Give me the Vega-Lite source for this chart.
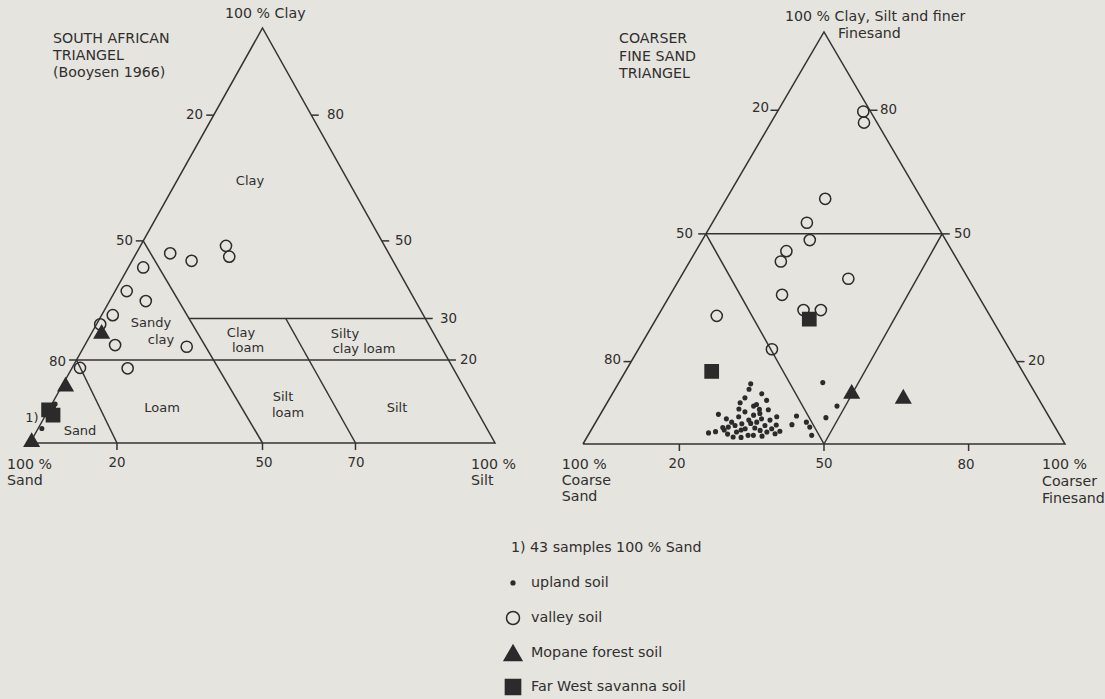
{
  "$schema": "https://vega.github.io/schema/vega-lite/v6.json",
  "width": 1105,
  "height": 699,
  "autosize": {"type": "fit", "contains": "padding"},
  "padding": 0,
  "background": "#e6e4de",
  "config": {"view": {"stroke": null}},
  "datasets": {
    "lines": [
      {"panel": "L", "seg": "L-out", "ord": 0, "clay": 0, "silt": 0},
      {"panel": "L", "seg": "L-out", "ord": 1, "clay": 0, "silt": 100},
      {"panel": "L", "seg": "L-out", "ord": 2, "clay": 100, "silt": 0},
      {"panel": "L", "seg": "L-out", "ord": 3, "clay": 0, "silt": 0},
      {"panel": "L", "seg": "L-s80", "ord": 0, "clay": 20, "silt": 0},
      {"panel": "L", "seg": "L-s80", "ord": 1, "clay": 0, "silt": 18.7},
      {"panel": "L", "seg": "L-c20", "ord": 0, "clay": 20, "silt": 0},
      {"panel": "L", "seg": "L-c20", "ord": 1, "clay": 20, "silt": 80},
      {"panel": "L", "seg": "L-s50", "ord": 0, "clay": 48.7, "silt": 0},
      {"panel": "L", "seg": "L-s50", "ord": 1, "clay": 0, "silt": 50},
      {"panel": "L", "seg": "L-c30", "ord": 0, "clay": 30, "silt": 19.2},
      {"panel": "L", "seg": "L-c30", "ord": 1, "clay": 30, "silt": 70},
      {"panel": "L", "seg": "L-s30", "ord": 0, "clay": 30, "silt": 40},
      {"panel": "L", "seg": "L-s30", "ord": 1, "clay": 0, "silt": 70},
      {"panel": "L", "seg": "L-tl1", "ord": 0, "clay": 79, "silt": -1.6},
      {"panel": "L", "seg": "L-tl1", "ord": 1, "clay": 79, "silt": 0},
      {"panel": "L", "seg": "L-tl2", "ord": 0, "clay": 48.7, "silt": -1.6},
      {"panel": "L", "seg": "L-tl2", "ord": 1, "clay": 48.7, "silt": 0},
      {"panel": "L", "seg": "L-tl3", "ord": 0, "clay": 20, "silt": -1.6},
      {"panel": "L", "seg": "L-tl3", "ord": 1, "clay": 20, "silt": 0},
      {"panel": "L", "seg": "L-tr1", "ord": 0, "clay": 79, "silt": 21},
      {"panel": "L", "seg": "L-tr1", "ord": 1, "clay": 79, "silt": 22.6},
      {"panel": "L", "seg": "L-tr2", "ord": 0, "clay": 48.7, "silt": 51.3},
      {"panel": "L", "seg": "L-tr2", "ord": 1, "clay": 48.7, "silt": 52.9},
      {"panel": "L", "seg": "L-tr3", "ord": 0, "clay": 30, "silt": 70},
      {"panel": "L", "seg": "L-tr3", "ord": 1, "clay": 30, "silt": 71.6},
      {"panel": "L", "seg": "L-tr4", "ord": 0, "clay": 20, "silt": 80},
      {"panel": "L", "seg": "L-tr4", "ord": 1, "clay": 20, "silt": 81.6},
      {"panel": "L", "seg": "L-tb1", "ord": 0, "clay": 0, "silt": 18.7},
      {"panel": "L", "seg": "L-tb1", "ord": 1, "clay": -1.7, "silt": 19.55},
      {"panel": "L", "seg": "L-tb2", "ord": 0, "clay": 0, "silt": 50},
      {"panel": "L", "seg": "L-tb2", "ord": 1, "clay": -1.7, "silt": 50.85},
      {"panel": "L", "seg": "L-tb3", "ord": 0, "clay": 0, "silt": 70},
      {"panel": "L", "seg": "L-tb3", "ord": 1, "clay": -1.7, "silt": 70.85},
      {"panel": "R", "seg": "R-out", "ord": 0, "fine": 0, "coarserFine": 0},
      {"panel": "R", "seg": "R-out", "ord": 1, "fine": 0, "coarserFine": 100},
      {"panel": "R", "seg": "R-out", "ord": 2, "fine": 100, "coarserFine": 0},
      {"panel": "R", "seg": "R-out", "ord": 3, "fine": 0, "coarserFine": 0},
      {"panel": "R", "seg": "R-mid", "ord": 0, "fine": 51, "coarserFine": 0},
      {"panel": "R", "seg": "R-mid", "ord": 1, "fine": 51, "coarserFine": 49},
      {"panel": "R", "seg": "R-l", "ord": 0, "fine": 51, "coarserFine": 0},
      {"panel": "R", "seg": "R-l", "ord": 1, "fine": 0, "coarserFine": 50},
      {"panel": "R", "seg": "R-r", "ord": 0, "fine": 51, "coarserFine": 49},
      {"panel": "R", "seg": "R-r", "ord": 1, "fine": 0, "coarserFine": 50},
      {"panel": "R", "seg": "R-tl1", "ord": 0, "fine": 81, "coarserFine": -1.6},
      {"panel": "R", "seg": "R-tl1", "ord": 1, "fine": 81, "coarserFine": 0},
      {"panel": "R", "seg": "R-tl2", "ord": 0, "fine": 51, "coarserFine": -1.6},
      {"panel": "R", "seg": "R-tl2", "ord": 1, "fine": 51, "coarserFine": 0},
      {"panel": "R", "seg": "R-tl3", "ord": 0, "fine": 20, "coarserFine": -1.6},
      {"panel": "R", "seg": "R-tl3", "ord": 1, "fine": 20, "coarserFine": 0},
      {"panel": "R", "seg": "R-tr1", "ord": 0, "fine": 81, "coarserFine": 19},
      {"panel": "R", "seg": "R-tr1", "ord": 1, "fine": 81, "coarserFine": 20.6},
      {"panel": "R", "seg": "R-tr2", "ord": 0, "fine": 51, "coarserFine": 49},
      {"panel": "R", "seg": "R-tr2", "ord": 1, "fine": 51, "coarserFine": 50.6},
      {"panel": "R", "seg": "R-tr3", "ord": 0, "fine": 20, "coarserFine": 80},
      {"panel": "R", "seg": "R-tr3", "ord": 1, "fine": 20, "coarserFine": 81.6},
      {"panel": "R", "seg": "R-tb1", "ord": 0, "fine": 0, "coarserFine": 20},
      {"panel": "R", "seg": "R-tb1", "ord": 1, "fine": -1.7, "coarserFine": 20.85},
      {"panel": "R", "seg": "R-tb2", "ord": 0, "fine": 0, "coarserFine": 50},
      {"panel": "R", "seg": "R-tb2", "ord": 1, "fine": -1.7, "coarserFine": 50.85},
      {"panel": "R", "seg": "R-tb3", "ord": 0, "fine": 0, "coarserFine": 80},
      {"panel": "R", "seg": "R-tb3", "ord": 1, "fine": -1.7, "coarserFine": 80.85}
    ],
    "samples": [
      {"panel": "L", "soil": "valley soil", "clay": 45.7, "silt": 7.3},
      {"panel": "L", "soil": "valley soil", "clay": 43.9, "silt": 12.8},
      {"panel": "L", "soil": "valley soil", "clay": 47.5, "silt": 18.4},
      {"panel": "L", "soil": "valley soil", "clay": 44.9, "silt": 20.4},
      {"panel": "L", "soil": "valley soil", "clay": 42.3, "silt": 3.2},
      {"panel": "L", "soil": "valley soil", "clay": 36.6, "silt": 2.5},
      {"panel": "L", "soil": "valley soil", "clay": 34.2, "silt": 7.8},
      {"panel": "L", "soil": "valley soil", "clay": 30.8, "silt": 2.4},
      {"panel": "L", "soil": "valley soil", "clay": 28.6, "silt": 0.8},
      {"panel": "L", "soil": "valley soil", "clay": 23.6, "silt": 6.5},
      {"panel": "L", "soil": "valley soil", "clay": 23.2, "silt": 22.1},
      {"panel": "L", "soil": "valley soil", "clay": 18.1, "silt": 1.7},
      {"panel": "L", "soil": "valley soil", "clay": 18.0, "silt": 12.0},
      {"panel": "L", "soil": "upland soil", "clay": 0, "silt": 0},
      {"panel": "L", "soil": "upland soil", "clay": 3.5, "silt": 0.8},
      {"panel": "L", "soil": "upland soil", "clay": 9.4, "silt": 0.7},
      {"panel": "L", "soil": "Mopane forest soil", "clay": 26.8, "silt": 2.0},
      {"panel": "L", "soil": "Mopane forest soil", "clay": 14.1, "silt": 0.6},
      {"panel": "L", "soil": "Mopane forest soil", "clay": 0.7, "silt": 0},
      {"panel": "L", "soil": "Far West savanna soil", "clay": 8.0, "silt": 0},
      {"panel": "L", "soil": "Far West savanna soil", "clay": 6.7, "silt": 1.6},
      {"panel": "R", "soil": "valley soil", "fine": 80.7, "coarserFine": 17.8},
      {"panel": "R", "soil": "valley soil", "fine": 78.0, "coarserFine": 19.3},
      {"panel": "R", "soil": "valley soil", "fine": 59.5, "coarserFine": 20.5},
      {"panel": "R", "soil": "valley soil", "fine": 53.7, "coarserFine": 19.6},
      {"panel": "R", "soil": "valley soil", "fine": 49.5, "coarserFine": 22.3},
      {"panel": "R", "soil": "valley soil", "fine": 46.8, "coarserFine": 18.8},
      {"panel": "R", "soil": "valley soil", "fine": 44.3, "coarserFine": 18.9},
      {"panel": "R", "soil": "valley soil", "fine": 36.2, "coarserFine": 23.2},
      {"panel": "R", "soil": "valley soil", "fine": 31.1, "coarserFine": 12.2},
      {"panel": "R", "soil": "valley soil", "fine": 32.5, "coarserFine": 29.5},
      {"panel": "R", "soil": "valley soil", "fine": 32.5, "coarserFine": 33.1},
      {"panel": "R", "soil": "valley soil", "fine": 23.0, "coarserFine": 27.7},
      {"panel": "R", "soil": "valley soil", "fine": 40.1, "coarserFine": 35.0},
      {"panel": "R", "soil": "Far West savanna soil", "fine": 30.3, "coarserFine": 31.8},
      {"panel": "R", "soil": "Far West savanna soil", "fine": 17.6, "coarserFine": 17.9},
      {"panel": "R", "soil": "Mopane forest soil", "fine": 12.7, "coarserFine": 49.4},
      {"panel": "R", "soil": "Mopane forest soil", "fine": 11.5, "coarserFine": 60.7},
      {"panel": "R", "soil": "upland soil", "fine": 14.6, "coarserFine": 27.5},
      {"panel": "R", "soil": "upland soil", "fine": 13.3, "coarserFine": 27.8},
      {"panel": "R", "soil": "upland soil", "fine": 11.2, "coarserFine": 28.0},
      {"panel": "R", "soil": "upland soil", "fine": 10.0, "coarserFine": 27.6},
      {"panel": "R", "soil": "upland soil", "fine": 12.2, "coarserFine": 31.0},
      {"panel": "R", "soil": "upland soil", "fine": 10.6, "coarserFine": 32.8},
      {"panel": "R", "soil": "upland soil", "fine": 9.2, "coarserFine": 30.8},
      {"panel": "R", "soil": "upland soil", "fine": 8.4, "coarserFine": 32.4},
      {"panel": "R", "soil": "upland soil", "fine": 7.2, "coarserFine": 24.5},
      {"panel": "R", "soil": "upland soil", "fine": 6.1, "coarserFine": 26.7},
      {"panel": "R", "soil": "upland soil", "fine": 6.6, "coarserFine": 29.0},
      {"panel": "R", "soil": "upland soil", "fine": 5.3, "coarserFine": 28.2},
      {"panel": "R", "soil": "upland soil", "fine": 4.5, "coarserFine": 29.3},
      {"panel": "R", "soil": "upland soil", "fine": 4.1, "coarserFine": 28.1},
      {"panel": "R", "soil": "upland soil", "fine": 4.9, "coarserFine": 30.5},
      {"panel": "R", "soil": "upland soil", "fine": 3.7, "coarserFine": 31.8},
      {"panel": "R", "soil": "upland soil", "fine": 2.9, "coarserFine": 30.4},
      {"panel": "R", "soil": "upland soil", "fine": 1.7, "coarserFine": 30.3},
      {"panel": "R", "soil": "upland soil", "fine": 2.1, "coarserFine": 33.2},
      {"panel": "R", "soil": "upland soil", "fine": 7.0, "coarserFine": 31.9},
      {"panel": "R", "soil": "upland soil", "fine": 5.3, "coarserFine": 33.4},
      {"panel": "R", "soil": "upland soil", "fine": 6.1, "coarserFine": 34.0},
      {"panel": "R", "soil": "upland soil", "fine": 4.5, "coarserFine": 35.5},
      {"panel": "R", "soil": "upland soil", "fine": 3.3, "coarserFine": 35.1},
      {"panel": "R", "soil": "upland soil", "fine": 2.9, "coarserFine": 36.7},
      {"panel": "R", "soil": "upland soil", "fine": 3.7, "coarserFine": 37.3},
      {"panel": "R", "soil": "upland soil", "fine": 6.6, "coarserFine": 36.9},
      {"panel": "R", "soil": "upland soil", "fine": 2.5, "coarserFine": 38.6},
      {"panel": "R", "soil": "upland soil", "fine": 3.1, "coarserFine": 39.3},
      {"panel": "R", "soil": "upland soil", "fine": 2.7, "coarserFine": 24.7},
      {"panel": "R", "soil": "upland soil", "fine": 2.1, "coarserFine": 34.3},
      {"panel": "R", "soil": "upland soil", "fine": 4.7, "coarserFine": 41.0},
      {"panel": "R", "soil": "upland soil", "fine": 6.8, "coarserFine": 40.9},
      {"panel": "R", "soil": "upland soil", "fine": 5.3, "coarserFine": 43.7},
      {"panel": "R", "soil": "upland soil", "fine": 4.1, "coarserFine": 45.0},
      {"panel": "R", "soil": "upland soil", "fine": 2.1, "coarserFine": 46.4},
      {"panel": "R", "soil": "upland soil", "fine": 14.9, "coarserFine": 42.3},
      {"panel": "R", "soil": "upland soil", "fine": 6.4, "coarserFine": 47.2},
      {"panel": "R", "soil": "upland soil", "fine": 9.2, "coarserFine": 48.1},
      {"panel": "R", "soil": "upland soil", "fine": 9.6, "coarserFine": 31.2},
      {"panel": "R", "soil": "upland soil", "fine": 7.8, "coarserFine": 29.7},
      {"panel": "R", "soil": "upland soil", "fine": 5.8, "coarserFine": 31.5},
      {"panel": "R", "soil": "upland soil", "fine": 3.4, "coarserFine": 31.1},
      {"panel": "R", "soil": "upland soil", "fine": 3.9, "coarserFine": 33.7},
      {"panel": "R", "soil": "upland soil", "fine": 1.9, "coarserFine": 36.2},
      {"panel": "R", "soil": "upland soil", "fine": 5.8, "coarserFine": 35.9},
      {"panel": "R", "soil": "upland soil", "fine": 8.5, "coarserFine": 28.1},
      {"panel": "R", "soil": "upland soil", "fine": 3.4, "coarserFine": 27.6},
      {"panel": "R", "soil": "upland soil", "fine": 8.3, "coarserFine": 34.3},
      {"panel": "R", "soil": "upland soil", "fine": 4.0, "coarserFine": 27.0},
      {"panel": "R", "soil": "upland soil", "fine": 5.0, "coarserFine": 32.3},
      {"panel": "R", "soil": "upland soil", "fine": 2.4, "coarserFine": 28.8},
      {"panel": "R", "soil": "upland soil", "fine": 4.6, "coarserFine": 37.8},
      {"panel": "R", "soil": "upland soil", "fine": 7.4, "coarserFine": 33.0},
      {"panel": "R", "soil": "upland soil", "fine": 1.6, "coarserFine": 32.0},
      {"panel": "R", "soil": "upland soil", "fine": 3.0, "coarserFine": 26.0}
    ],
    "labels": [
      {"kind": "title", "t": "SOUTH AFRICAN", "u": 4.95, "v": 97.35},
      {"kind": "title", "t": "TRIANGEL", "u": 4.95, "v": 93.25},
      {"kind": "title", "t": "(Booysen 1966)", "u": 4.95, "v": 89.16},
      {"kind": "title", "t": "COARSER", "u": 126.67, "v": 97.35},
      {"kind": "title", "t": "FINE SAND", "u": 126.67, "v": 93.01},
      {"kind": "title", "t": "TRIANGEL", "u": 126.67, "v": 88.92},
      {"kind": "vertex", "t": "100 % Clay", "u": 41.94, "v": 103.37},
      {"kind": "vertex", "t": "100 %", "u": -4.95, "v": -5.3},
      {"kind": "vertex", "t": "Sand", "u": -4.95, "v": -9.16},
      {"kind": "vertex", "t": "100 %", "u": 94.84, "v": -5.3},
      {"kind": "vertex", "t": "Silt", "u": 94.84, "v": -9.16},
      {"kind": "vertex", "t": "100 % Clay, Silt and finer", "u": 162.37, "v": 102.65},
      {"kind": "vertex", "t": "Finesand", "u": 173.76, "v": 98.55},
      {"kind": "vertex", "t": "100 %", "u": 114.34, "v": -5.3},
      {"kind": "vertex", "t": "Coarse", "u": 114.34, "v": -9.16},
      {"kind": "vertex", "t": "Sand", "u": 114.34, "v": -13.01},
      {"kind": "vertex", "t": "100 %", "u": 217.63, "v": -5.3},
      {"kind": "vertex", "t": "Coarser", "u": 217.63, "v": -9.4},
      {"kind": "vertex", "t": "Finesand", "u": 217.63, "v": -13.49},
      {"kind": "edgeLeft", "t": "20", "u": 37.2, "v": 79.04},
      {"kind": "edgeLeft", "t": "50", "u": 22.15, "v": 48.67},
      {"kind": "edgeLeft", "t": "80", "u": 7.74, "v": 19.52},
      {"kind": "edgeLeft", "t": "20", "u": 158.92, "v": 80.72},
      {"kind": "edgeLeft", "t": "50", "u": 142.58, "v": 50.36},
      {"kind": "edgeLeft", "t": "80", "u": 127.1, "v": 20.0},
      {"kind": "edgeRight", "t": "80", "u": 63.87, "v": 79.04},
      {"kind": "edgeRight", "t": "50", "u": 78.49, "v": 48.67},
      {"kind": "edgeRight", "t": "30", "u": 88.17, "v": 29.88},
      {"kind": "edgeRight", "t": "20", "u": 92.47, "v": 19.9},
      {"kind": "edgeRight", "t": "80", "u": 182.8, "v": 80.24},
      {"kind": "edgeRight", "t": "50", "u": 198.71, "v": 50.36},
      {"kind": "edgeRight", "t": "20", "u": 214.62, "v": 19.76},
      {"kind": "edgeBottom", "t": "20", "u": 18.71, "v": -4.9},
      {"kind": "edgeBottom", "t": "50", "u": 50.32, "v": -4.9},
      {"kind": "edgeBottom", "t": "70", "u": 70.11, "v": -4.9},
      {"kind": "edgeBottom", "t": "20", "u": 139.14, "v": -5.06},
      {"kind": "edgeBottom", "t": "50", "u": 170.75, "v": -5.06},
      {"kind": "edgeBottom", "t": "80", "u": 201.29, "v": -5.3},
      {"kind": "region", "t": "Clay", "u": 47.31, "v": 63.13},
      {"kind": "region", "t": "Sandy", "u": 26.02, "v": 28.92},
      {"kind": "region", "t": "clay", "u": 28.17, "v": 24.82},
      {"kind": "region", "t": "Clay", "u": 45.38, "v": 26.51},
      {"kind": "region", "t": "loam", "u": 46.88, "v": 22.89},
      {"kind": "region", "t": "Silty", "u": 67.74, "v": 26.27},
      {"kind": "region", "t": "clay loam", "u": 71.83, "v": 22.65},
      {"kind": "region", "t": "Silt", "u": 54.41, "v": 11.08},
      {"kind": "region", "t": "loam", "u": 55.48, "v": 7.23},
      {"kind": "region", "t": "Silt", "u": 78.92, "v": 8.43},
      {"kind": "region", "t": "Loam", "u": 28.39, "v": 8.43},
      {"kind": "region", "t": "Sand", "u": 10.75, "v": 2.89},
      {"kind": "region", "t": "1)", "u": 0.43, "v": 6.02},
      {"kind": "note", "t": "1) 43 samples 100 % Sand", "u": 103.44, "v": -25.3}
    ],
    "legend": [
      {"soil": "upland soil", "u": 103.87, "v": -33.73},
      {"soil": "valley soil", "u": 103.87, "v": -42.17},
      {"soil": "Mopane forest soil", "u": 103.87, "v": -50.6},
      {"soil": "Far West savanna soil", "u": 103.87, "v": -58.8}
    ]
  },
  "resolve": {"scale": {"size": "independent"}},
  "layer": [
    {
      "data": {"name": "lines"},
      "transform": [
        {"calculate": "datum.panel == 'L' ? datum.silt + datum.clay / 2 : 118.92 + 1.0366 * (datum.coarserFine + datum.fine / 2)", "as": "u"},
        {"calculate": "datum.panel == 'L' ? datum.clay : -0.241 + 0.9928 * datum.fine", "as": "v"}
      ],
      "mark": {"type": "line", "stroke": "#333333", "strokeWidth": 1.5, "strokeJoin": "miter"},
      "encoding": {
        "x": {"field": "u", "type": "quantitative", "scale": {"domain": [-6.452, 231.183], "nice": false, "zero": false}, "axis": null},
        "y": {"field": "v", "type": "quantitative", "scale": {"domain": [-61.687, 106.747], "nice": false, "zero": false}, "axis": null},
        "detail": {"field": "seg", "type": "nominal"},
        "order": {"field": "ord", "type": "quantitative"}
      }
    },
    {
      "data": {"name": "samples"},
      "transform": [
        {"calculate": "datum.panel == 'L' ? datum.silt + datum.clay / 2 : 118.92 + 1.0366 * (datum.coarserFine + datum.fine / 2)", "as": "u"},
        {"calculate": "datum.panel == 'L' ? datum.clay : -0.241 + 0.9928 * datum.fine", "as": "v"}
      ],
      "mark": {"type": "point", "filled": true, "stroke": "#2b2b2b", "strokeWidth": 1.5, "opacity": 1},
      "encoding": {
        "x": {"field": "u", "type": "quantitative", "scale": {"domain": [-6.452, 231.183], "nice": false, "zero": false}, "axis": null},
        "y": {"field": "v", "type": "quantitative", "scale": {"domain": [-61.687, 106.747], "nice": false, "zero": false}, "axis": null},
        "shape": {"field": "soil", "type": "nominal", "scale": {"domain": ["upland soil", "valley soil", "Mopane forest soil", "Far West savanna soil"], "range": ["circle", "circle", "triangle-up", "square"]}, "legend": null},
        "fill": {"field": "soil", "type": "nominal", "scale": {"domain": ["upland soil", "valley soil", "Mopane forest soil", "Far West savanna soil"], "range": ["#2b2b2b", "transparent", "#2b2b2b", "#2b2b2b"]}, "legend": null},
        "size": {"field": "soil", "type": "nominal", "scale": {"type": "ordinal", "domain": ["upland soil", "valley soil", "Mopane forest soil", "Far West savanna soil"], "range": [13, 125, 210, 175]}, "legend": null}
      }
    },
    {
      "data": {"name": "legend"},
      "mark": {"type": "point", "filled": true, "stroke": "#2b2b2b", "strokeWidth": 1.5, "opacity": 1},
      "encoding": {
        "x": {"field": "u", "type": "quantitative", "scale": {"domain": [-6.452, 231.183], "nice": false, "zero": false}, "axis": null},
        "y": {"field": "v", "type": "quantitative", "scale": {"domain": [-61.687, 106.747], "nice": false, "zero": false}, "axis": null},
        "shape": {"field": "soil", "type": "nominal", "scale": {"domain": ["upland soil", "valley soil", "Mopane forest soil", "Far West savanna soil"], "range": ["circle", "circle", "triangle-up", "square"]}, "legend": null},
        "fill": {"field": "soil", "type": "nominal", "scale": {"domain": ["upland soil", "valley soil", "Mopane forest soil", "Far West savanna soil"], "range": ["#2b2b2b", "transparent", "#2b2b2b", "#2b2b2b"]}, "legend": null},
        "size": {"field": "soil", "type": "nominal", "scale": {"type": "ordinal", "domain": ["upland soil", "valley soil", "Mopane forest soil", "Far West savanna soil"], "range": [14, 170, 310, 230]}, "legend": null}
      }
    },
    {
      "data": {"name": "legend"},
      "mark": {"type": "text", "align": "left", "baseline": "middle", "dx": 18, "font": "DejaVu Sans", "fontSize": 14.3, "fill": "#2f2f2f"},
      "encoding": {
        "x": {"field": "u", "type": "quantitative", "scale": {"domain": [-6.452, 231.183], "nice": false, "zero": false}, "axis": null},
        "y": {"field": "v", "type": "quantitative", "scale": {"domain": [-61.687, 106.747], "nice": false, "zero": false}, "axis": null},
        "text": {"field": "soil", "type": "nominal"}
      }
    },
    {
      "data": {"name": "labels"},
      "transform": [{"filter": "indexof(['title', 'vertex', 'note'], datum.kind) >= 0"}],
      "mark": {"type": "text", "align": "left", "baseline": "middle", "font": "DejaVu Sans", "fontSize": 14.2, "fill": "#2f2f2f"},
      "encoding": {
        "x": {"field": "u", "type": "quantitative", "scale": {"domain": [-6.452, 231.183], "nice": false, "zero": false}, "axis": null},
        "y": {"field": "v", "type": "quantitative", "scale": {"domain": [-61.687, 106.747], "nice": false, "zero": false}, "axis": null},
        "text": {"field": "t", "type": "nominal"}
      }
    },
    {
      "data": {"name": "labels"},
      "transform": [{"filter": "datum.kind == 'edgeRight'"}],
      "mark": {"type": "text", "align": "left", "baseline": "middle", "font": "DejaVu Sans", "fontSize": 13.4, "fill": "#2f2f2f"},
      "encoding": {
        "x": {"field": "u", "type": "quantitative", "scale": {"domain": [-6.452, 231.183], "nice": false, "zero": false}, "axis": null},
        "y": {"field": "v", "type": "quantitative", "scale": {"domain": [-61.687, 106.747], "nice": false, "zero": false}, "axis": null},
        "text": {"field": "t", "type": "nominal"}
      }
    },
    {
      "data": {"name": "labels"},
      "transform": [{"filter": "datum.kind == 'edgeLeft'"}],
      "mark": {"type": "text", "align": "right", "baseline": "middle", "font": "DejaVu Sans", "fontSize": 13.4, "fill": "#2f2f2f"},
      "encoding": {
        "x": {"field": "u", "type": "quantitative", "scale": {"domain": [-6.452, 231.183], "nice": false, "zero": false}, "axis": null},
        "y": {"field": "v", "type": "quantitative", "scale": {"domain": [-61.687, 106.747], "nice": false, "zero": false}, "axis": null},
        "text": {"field": "t", "type": "nominal"}
      }
    },
    {
      "data": {"name": "labels"},
      "transform": [{"filter": "datum.kind == 'edgeBottom'"}],
      "mark": {"type": "text", "align": "center", "baseline": "middle", "font": "DejaVu Sans", "fontSize": 13.4, "fill": "#2f2f2f"},
      "encoding": {
        "x": {"field": "u", "type": "quantitative", "scale": {"domain": [-6.452, 231.183], "nice": false, "zero": false}, "axis": null},
        "y": {"field": "v", "type": "quantitative", "scale": {"domain": [-61.687, 106.747], "nice": false, "zero": false}, "axis": null},
        "text": {"field": "t", "type": "nominal"}
      }
    },
    {
      "data": {"name": "labels"},
      "transform": [{"filter": "datum.kind == 'region'"}],
      "mark": {"type": "text", "align": "center", "baseline": "middle", "font": "DejaVu Sans", "fontSize": 13, "fill": "#2f2f2f"},
      "encoding": {
        "x": {"field": "u", "type": "quantitative", "scale": {"domain": [-6.452, 231.183], "nice": false, "zero": false}, "axis": null},
        "y": {"field": "v", "type": "quantitative", "scale": {"domain": [-61.687, 106.747], "nice": false, "zero": false}, "axis": null},
        "text": {"field": "t", "type": "nominal"}
      }
    }
  ]
}
